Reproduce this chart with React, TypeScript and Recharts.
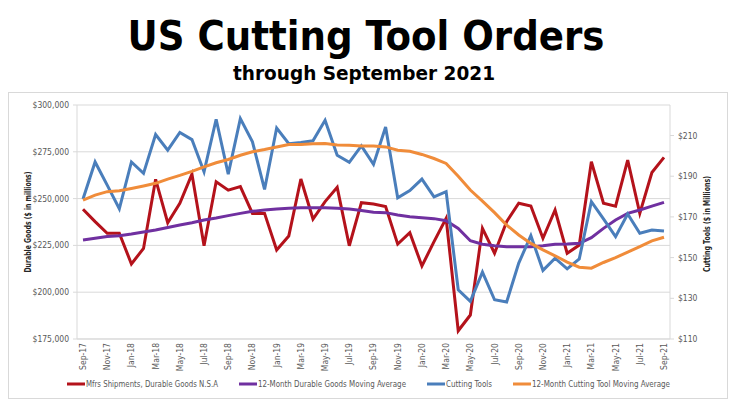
import React from 'react';
import { LineChart, Line, XAxis, YAxis, CartesianGrid } from 'recharts';

const months = [
  'Sep-17','Oct-17','Nov-17','Dec-17','Jan-18','Feb-18','Mar-18','Apr-18','May-18','Jun-18','Jul-18','Aug-18',
  'Sep-18','Oct-18','Nov-18','Dec-18','Jan-19','Feb-19','Mar-19','Apr-19','May-19','Jun-19','Jul-19','Aug-19',
  'Sep-19','Oct-19','Nov-19','Dec-19','Jan-20','Feb-20','Mar-20','Apr-20','May-20','Jun-20','Jul-20','Aug-20',
  'Sep-20','Oct-20','Nov-20','Dec-20','Jan-21','Feb-21','Mar-21','Apr-21','May-21','Jun-21','Jul-21','Aug-21','Sep-21',
];

const durableShipments = [
  244300, 237700, 231500, 231500, 215100, 223400, 260300, 237100, 247500, 263100, 224800, 259000,
  254500, 256400, 242100, 242100, 222500, 230000, 260500, 239100, 248400, 256000, 224800, 247800,
  247100, 245700, 225700, 231800, 214000, 227000, 239500, 179400, 187800, 234100, 220800, 237700,
  247500, 246000, 228800, 243900, 220800, 225200, 269700, 247500, 246000, 270600, 242100, 263900, 272000,
];

const durableMA = [
  227900, 228800, 229700, 230200, 231100, 232200, 233200, 234600, 235900, 237100, 238600, 239600,
  240900, 242100, 243200, 243900, 244400, 244800, 245100, 245100, 245100, 244800, 244400, 243600,
  242700, 242500, 241200, 240300, 239800, 239300, 238200, 234100, 227500, 225600, 224800, 224300,
  224300, 224300, 224800, 225600, 225700, 226100, 229100, 234100, 238600, 242100, 243900, 246000, 248000,
];

const cuttingTools = [
  178.8, 197, 185.6, 174, 197, 191.4, 210.5, 202.8, 211.5, 208, 192.2, 218,
  191, 218.3, 206.9, 183.5, 213.7, 206, 206.6, 207.4, 217.5, 200.3, 196.8, 204.9,
  195.8, 214.2, 179.4, 182.9, 188.6, 179.9, 182.4, 134.2, 128.5, 142.9, 129.3, 128.2,
  147.3, 160.8, 143.7, 149.7, 144.5, 149.4, 177.5, 169, 160.3, 171.4, 162, 163.6, 163.1,
];

const cuttingMA = [
  178.3, 180.7, 182.4, 182.9, 184, 185.2, 186.5, 188.6, 190.4, 192.4, 194.6, 196.6,
  198.2, 200.3, 202, 203.1, 204.4, 205.6, 205.6, 205.9, 206.1, 205.4, 205.2, 204.9,
  204.8, 204.4, 202.8, 202.3, 200.7, 198.7, 196.3, 190, 183.2, 177.8, 172.1, 166,
  161.1, 157, 153.8, 150.9, 147.8, 145.3, 144.8, 147.6, 150, 152.7, 155.4, 158.2, 160,
];

const leftTicks = [175000, 200000, 225000, 250000, 275000, 300000];
const rightTicks = [110, 130, 150, 170, 190, 210];

const seriesNames = [
  'Mfrs Shipments, Durable Goods N.S.A',
  '12-Month Durable Goods Moving Average',
  'Cutting Tools',
  '12-Month Cutting Tool Moving Average',
];
const colors = ['#B4121B', '#7030A0', '#4A7EBB', '#F08C3A'];

const data = months.map((m, i) => ({
  month: m,
  durable: durableShipments[i],
  durableMA: durableMA[i],
  cutting: cuttingTools[i],
  cuttingMA: cuttingMA[i],
}));

const FONT = '"Liberation Sans Narrow", "Arial Narrow", "DejaVu Sans Condensed", sans-serif';
const TITLE_FONT = '"Liberation Sans Narrow", "DejaVu Sans Condensed", "Open Sans", sans-serif';

const XTick = (props: any) => {
  const { x, y, payload } = props;
  return (
    <text
      x={x}
      y={y}
      transform={`rotate(-90 ${x} ${y})`}
      textAnchor="end"
      dy="0.35em"
      fontSize={8.5}
      fill="#595959"
      fontFamily={FONT}
    >
      {payload.value}
    </text>
  );
};

const legendItems = [
  { x: 67, tx: 86, len: 132 },
  { x: 239, tx: 258, len: 148 },
  { x: 427, tx: 446, len: 46 },
  { x: 513, tx: 532, len: 138 },
];

export default function App() {
  return (
    <div style={{ position: 'absolute', left: 0, top: 0, width: 736, height: 414, background: '#fff', overflow: 'hidden' }}>
      <svg width={736} height={414} style={{ position: 'absolute', left: 0, top: 0 }}>
        <text x={366} y={50} textAnchor="middle" fontSize={41} fontWeight="bold" fontFamily={TITLE_FONT}
          textLength={477} lengthAdjust="spacingAndGlyphs" fill="#000">US Cutting Tool Orders</text>
        <text x={364} y={80} textAnchor="middle" fontSize={20} fontWeight="bold" fontFamily={TITLE_FONT}
          textLength={262} lengthAdjust="spacingAndGlyphs" fill="#000">through September 2021</text>
        <rect x={8.5} y={92.5} width={719} height={306} fill="none" stroke="#d9d9d9" strokeWidth={1} />
        <text x={31} y={222} transform="rotate(-90 31 222)" textAnchor="middle" fontSize={8.5} fontWeight="bold"
          fontFamily={FONT} fill="#262626" textLength={101} lengthAdjust="spacingAndGlyphs">Durable Goods ($ in millions)</text>
        <text x={707} y={224} transform="rotate(-90 707 224)" textAnchor="middle" dy="0.35em" fontSize={8.5} fontWeight="bold"
          fontFamily={FONT} fill="#262626" textLength={96} lengthAdjust="spacingAndGlyphs">Cutting Tools ($ in Millions)</text>
        {legendItems.map((it, i) => (
          <g key={i}>
            <rect x={it.x} y={382.5} width={18} height={3} fill={colors[i]} />
            <text x={it.tx} y={387} fontSize={8.5} fill="#595959" fontFamily={FONT}
              textLength={it.len} lengthAdjust="spacingAndGlyphs">{seriesNames[i]}</text>
          </g>
        ))}
      </svg>
      <div style={{ position: 'absolute', left: 0, top: 0 }}>
        <LineChart width={736} height={414} data={data} margin={{ top: 105, right: 0, bottom: 35, left: 0 }}>
          <CartesianGrid yAxisId="left" vertical={false} stroke="#d9d9d9" strokeWidth={1} />
          <XAxis
            dataKey="month"
            interval={1}
            height={40}
            tick={<XTick />}
            tickLine={false}
            tickSize={0}
            tickMargin={4}
            axisLine={{ stroke: '#d9d9d9' }}
            padding={{ left: 6, right: 6 }}
          />
          <YAxis
            yAxisId="left"
            orientation="left"
            width={77}
            domain={[175000, 300000]}
            ticks={leftTicks}
            tickFormatter={(v: number) => '$' + v.toLocaleString('en-US')}
            tick={{ fontSize: 8.5, fill: '#595959', fontFamily: FONT }}
            tickLine={{ stroke: '#d9d9d9' }}
            tickSize={4}
            tickMargin={4}
            axisLine={{ stroke: '#d9d9d9' }}
          />
          <YAxis
            yAxisId="right"
            orientation="right"
            width={66}
            domain={[110, 225]}
            ticks={rightTicks}
            tickFormatter={(v: number) => '$' + v}
            tick={{ fontSize: 8.5, fill: '#595959', fontFamily: FONT }}
            tickLine={{ stroke: '#d9d9d9' }}
            tickSize={4}
            tickMargin={4}
            axisLine={{ stroke: '#d9d9d9' }}
          />
          <Line yAxisId="left" type="linear" dataKey="durable" stroke={colors[0]} strokeWidth={3} dot={false} isAnimationActive={false} />
          <Line yAxisId="left" type="linear" dataKey="durableMA" stroke={colors[1]} strokeWidth={3} dot={false} isAnimationActive={false} />
          <Line yAxisId="right" type="linear" dataKey="cutting" stroke={colors[2]} strokeWidth={3} dot={false} isAnimationActive={false} />
          <Line yAxisId="right" type="linear" dataKey="cuttingMA" stroke={colors[3]} strokeWidth={3} dot={false} isAnimationActive={false} />
        </LineChart>
      </div>
    </div>
  );
}
